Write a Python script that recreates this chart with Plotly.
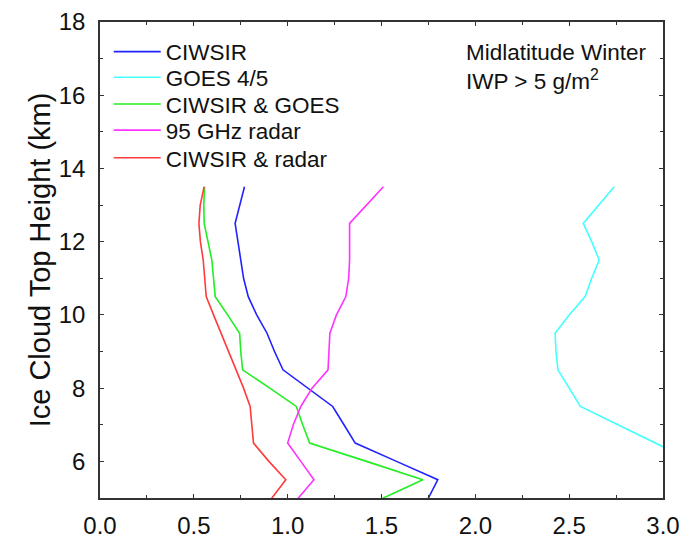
import plotly.graph_objects as go

# Cloud-top heights (km) at which each retrieval error profile is sampled
heights = [13.5, 13.0, 12.5, 12.0, 11.5, 11.0, 10.5, 10.0, 9.5, 9.0,
           8.5, 8.0, 7.5, 7.0, 6.5, 6.0, 5.5, 5.0, 4.5]

ciwsir = [0.77, 0.745, 0.72, 0.735, 0.75, 0.765, 0.79, 0.835, 0.89, 0.93,
          0.975, 1.11, 1.24, 1.30, 1.36, 1.58, 1.80, 1.75, 1.70]
goes = [2.74, 2.66, 2.575, 2.62, 2.66, 2.62, 2.585, 2.50, 2.425, 2.43,
        2.44, 2.50, 2.56, 2.76, 2.96, 3.16, None, None, None]
ciwsir_goes = [0.557, 0.553, 0.555, 0.575, 0.596, 0.605, 0.614, 0.68, 0.744, 0.75,
               0.76, 0.905, 1.046, 1.08, 1.117, 1.42, 1.72, 1.51, 1.30]
radar = [1.51, 1.42, 1.33, 1.33, 1.33, 1.325, 1.31, 1.26, 1.225, 1.22,
         1.215, 1.13, 1.07, 1.03, 1.00, 1.07, 1.14, 1.057, 0.97]
ciwsir_radar = [0.555, 0.534, 0.527, 0.535, 0.55, 0.558, 0.566, 0.605, 0.645, 0.685,
                0.725, 0.765, 0.80, 0.81, 0.818, 0.90, 0.99, 0.916, 0.85]

series = [
    ("CIWSIR", ciwsir, "#2222ff"),
    ("GOES 4/5", goes, "#44ffff"),
    ("CIWSIR & GOES", ciwsir_goes, "#22ee22"),
    ("95 GHz radar", radar, "#ff33ff"),
    ("CIWSIR & radar", ciwsir_radar, "#ff3b3b"),
]

# vertical position (paper units) of each legend row, top to bottom
legend_rows = [0.937, 0.883, 0.827, 0.772, 0.714]

FONT = "Liberation Sans, Arial, Helvetica, sans-serif"
INK = "#111111"

fig = go.Figure()
legend_layout = {}
for i, ((name, xs, color), ly) in enumerate(zip(series, legend_rows)):
    key = "legend" if i == 0 else f"legend{i + 1}"
    fig.add_trace(go.Scatter(
        x=xs, y=heights, name=name, mode="lines",
        line=dict(color=color, width=1.6),
        connectgaps=False, legend=key,
    ))
    legend_layout[key] = dict(
        x=0.0155, y=ly, xanchor="left", yanchor="middle",
        bgcolor="rgba(0,0,0,0)", borderwidth=0, itemwidth=47,
        font=dict(family=FONT, size=22.5, color=INK),
    )

axis_common = dict(
    showline=True, linecolor="#333333", linewidth=1.5, mirror="allticks",
    ticks="inside", ticklen=4, tickcolor="#333333", tickwidth=1.2,
    showgrid=False, zeroline=False, automargin=False,
    tickfont=dict(family=FONT, size=24, color=INK),
)

fig.update_xaxes(
    range=[0, 3.0], dtick=0.5, tick0=0, tickformat=".1f", ticklabelstandoff=5,
    minor=dict(dtick=0.25, ticks="inside", ticklen=3, tickcolor="#333333"),
    **axis_common,
)
fig.update_yaxes(
    range=[5, 18], dtick=2, tick0=0, ticklabelstandoff=8,
    minor=dict(dtick=1, ticks="inside", ticklen=3, tickcolor="#333333"),
    title=dict(text="Ice Cloud Top Height (km)",
               font=dict(family=FONT, size=29, color=INK), standoff=0),
    **axis_common,
)

fig.add_annotation(
    xref="paper", yref="paper", x=0.646, y=0.906, xanchor="left", yanchor="middle",
    text="Midlatitude Winter<br>IWP > 5 g/m<sup>2</sup>", align="left", showarrow=False,
    font=dict(family=FONT, size=22.5, color=INK),
)

fig.update_layout(
    width=695, height=539,
    margin=dict(l=100, r=32, t=22, b=41),
    paper_bgcolor="white", plot_bgcolor="white",
    showlegend=True,
    **legend_layout,
)

fig.write_html("out.html")
